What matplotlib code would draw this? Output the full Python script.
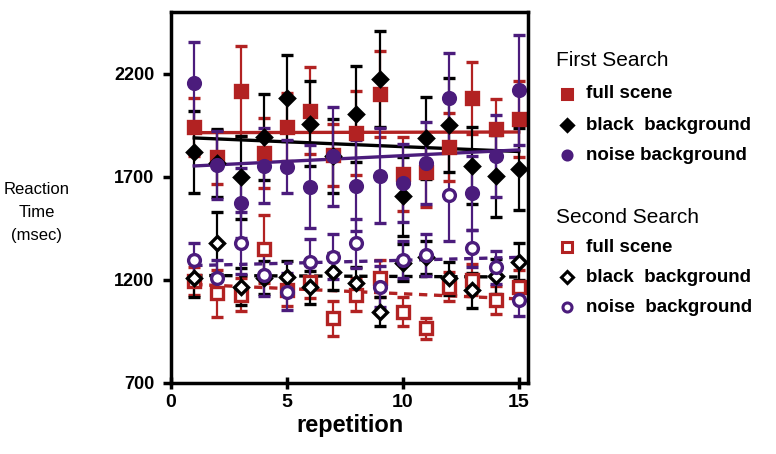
import numpy as np
import matplotlib.pyplot as plt
from matplotlib.lines import Line2D

plt.rcParams['font.family'] = ['Liberation Sans', 'DejaVu Sans']

rep = np.arange(1, 16)

# first search (filled markers)
first_full = [1943, 1797, 2117, 1815, 1943, 2022, 1807, 1913, 2102, 1714, 1726, 1847, 2082, 1933, 1981]
first_full_err = [140, 130, 220, 170, 165, 210, 150, 205, 210, 180, 170, 165, 173, 145, 185]
first_black = [1821, 1765, 1697, 1893, 2082, 1957, 1800, 2006, 2174, 1605, 1889, 1952, 1755, 1705, 1739]
first_black_err = [200, 165, 200, 210, 210, 206, 180, 233, 233, 190, 200, 230, 185, 200, 200]
first_noise = [2155, 1760, 1575, 1755, 1750, 1653, 1800, 1658, 1706, 1671, 1766, 2085, 1622, 1800, 2122]
first_noise_err = [197, 165, 170, 180, 130, 200, 240, 220, 230, 190, 200, 215, 180, 200, 267]

# second search (open markers)
second_full = [1195, 1135, 1127, 1349, 1150, 1192, 1014, 1127, 1208, 1046, 965, 1167, 1200, 1103, 1167]
second_full_err = [70, 115, 80, 166, 75, 80, 85, 80, 90, 70, 52, 70, 75, 70, 80]
second_black = [1208, 1378, 1167, 1210, 1213, 1164, 1240, 1184, 1046, 1283, 1310, 1208, 1151, 1218, 1289]
second_black_err = [90, 150, 90, 80, 80, 80, 90, 80, 70, 90, 80, 80, 85, 85, 90]
second_noise = [1297, 1208, 1378, 1224, 1143, 1289, 1313, 1378, 1167, 1297, 1321, 1612, 1354, 1261, 1103]
second_noise_err = [80, 90, 150, 100, 90, 110, 110, 120, 100, 90, 100, 225, 90, 80, 80]

RED = '#b22222'
BLK = '#000000'
PUR = '#4b1c7c'

fig = plt.figure(figsize=(7.76, 4.54), dpi=100)
ax = fig.add_axes([0.2204, 0.1564, 0.4600, 0.8172])

series = [
    (second_full, second_full_err, RED, 's', 'none', '--'),
    (second_black, second_black_err, BLK, 'D', 'none', '--'),
    (second_noise, second_noise_err, PUR, 'o', 'none', '--'),
    (first_full, first_full_err, RED, 's', 'fill', '-'),
    (first_black, first_black_err, BLK, 'D', 'fill', '-'),
    (first_noise, first_noise_err, PUR, 'o', 'fill', '-'),
]

for vals, err, col, mk, fill, ls in series:
    face = col if fill == 'fill' else 'white'
    ms = 8.5 if mk != 'D' else 7.5
    ax.errorbar(rep, vals, yerr=err, fmt=mk, color=col, mfc=face, mec=col,
                mew=2.4, ms=ms, elinewidth=1.6, capsize=4.5, capthick=1.8)
    k, b = np.polyfit(rep, vals, 1)
    if ls == '-':
        ax.plot(rep, k * rep + b, color=col, lw=2.4, ls='-')
    else:
        ax.plot(rep, k * rep + b, color=col, lw=2.4, ls=(0, (2.5, 2)))

ax.set_xlim(0, 15.4)
ax.set_ylim(700, 2500)
ax.set_xticks([0, 5, 10, 15])
ax.set_yticks([700, 1200, 1700, 2200])
for s in ax.spines.values():
    s.set_linewidth(2.5)
ax.tick_params(axis='x', direction='inout', length=8, width=2.5, labelsize=14, pad=4)
ax.tick_params(axis='y', direction='out', length=6, width=2.5, labelsize=13, pad=6)
for t in ax.get_xticklabels() + ax.get_yticklabels():
    t.set_fontweight('bold')
ax.set_xlabel('repetition', fontsize=17, fontweight='bold', labelpad=2)

fig.text(0.047, 0.532, 'Reaction\nTime\n(msec)', ha='center', va='center',
         fontsize=12, linespacing=1.65)

# legend drawn by hand
W, H = 776, 454
def fx(px):
    return px / W
def fy(py):
    return 1 - py / H

fig.text(fx(556), fy(60), 'First Search', fontsize=15, va='center', ha='left')
fig.text(fx(556), fy(218), 'Second Search', fontsize=15, va='center', ha='left')
entries = [
    (94, RED, 's', True, 'full scene'),
    (125, BLK, 'D', True, 'black  background'),
    (155, PUR, 'o', True, 'noise background'),
    (247, RED, 's', False, 'full scene'),
    (277, BLK, 'D', False, 'black  background'),
    (307, PUR, 'o', False, 'noise  background'),
]
for py, col, mk, filled, lab in entries:
    fig.add_artist(Line2D([fx(567)], [fy(py)], transform=fig.transFigure, marker=mk,
                          color=col, mfc=col if filled else 'white', mec=col,
                          mew=2.2, ms=6.5, ls='none'))
    fig.text(fx(586), fy(py), lab, fontsize=13.5, fontweight='bold', va='center', ha='left')

fig.savefig('out.png', dpi=100)
